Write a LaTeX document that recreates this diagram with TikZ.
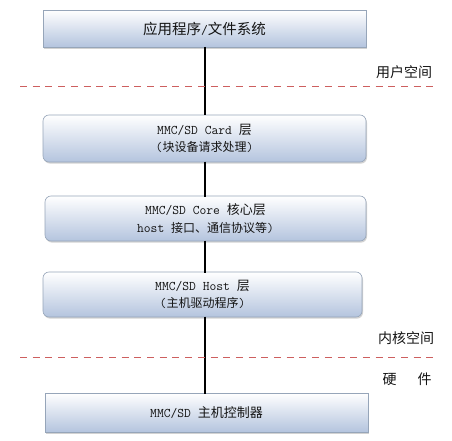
\documentclass[tikz,border=0pt]{standalone}
\usepackage{fontspec}
\setmainfont{Noto Sans CJK SC}
\usetikzlibrary{shadows}
\definecolor{boxbot}{RGB}{180,196,222}
\definecolor{bordc}{RGB}{150,165,185}
\definecolor{dashc}{RGB}{205,95,95}
\definecolor{txt}{RGB}{20,20,20}
\tikzset{
  layerbox/.style={draw=bordc, line width=0.6pt, top color=white, bottom color=boxbot,
    drop shadow={shadow xshift=1pt, shadow yshift=-1.6pt, fill=black!35},
    text=txt, align=center, inner sep=0pt, font=\fontsize{13}{18}\selectfont},
  roundbox/.style={layerbox, rounded corners=6pt},
  link/.style={draw=black, line width=1.3pt},
  divider/.style={draw=dashc, line width=0.9pt, dash pattern=on 7pt off 5.7pt},
  zone/.style={text=txt, font=\fontsize{14}{16}\selectfont, inner sep=0pt}
}
\newcommand{\lt}[1]{{\ttfamily\fontsize{13.2}{18}\selectfont #1}}
\newcommand{\sub}{\fontsize{12}{18}\selectfont}
\begin{document}
\begin{tikzpicture}[x=1pt,y=-1pt]
\useasboundingbox (0,0) rectangle (452,441);
\node[layerbox, minimum width=323pt, minimum height=37pt, font=\fontsize{14.5}{18}\selectfont] (app) at (204.5,28.5) {应用程序\lt{/}文件系统};
\node[roundbox, minimum width=323pt, minimum height=47pt] (card) at (204.5,138.5) {\lt{MMC/SD Card }层\\[-0.5pt]{\sub\lt{(}块设备请求处理\lt{)}}};
\node[roundbox, minimum width=321pt, minimum height=45pt] (core) at (205.5,218.5) {\lt{MMC/SD Core }核心层\\[-0.5pt]{\sub\lt{host }接口、通信协议等\lt{)}}};
\node[roundbox, minimum width=319pt, minimum height=45pt] (host) at (202.5,294.5) {\lt{MMC/SD Host }层\\[-0.5pt]{\sub\lt{(}主机驱动程序\lt{)}}};
\node[layerbox, minimum width=323pt, minimum height=39pt] (ctrl) at (206.5,412.5) {\lt{MMC/SD }主机控制器};

\coordinate (c1) at (205,47);
\coordinate (c2) at (205,115.5);
\coordinate (c3) at (205,161.5);
\coordinate (c4) at (205,196.5);
\coordinate (c5) at (205,240.5);
\coordinate (c6) at (205,272.5);
\coordinate (c7) at (205,316.5);
\coordinate (c8) at (205,393.5);
\draw[link] (c1) -- (c2);
\draw[link] (c3) -- (c4);
\draw[link] (c5) -- (c6);
\draw[link] (c7) -- (c8);

\coordinate (d1a) at (20,86);
\coordinate (d1b) at (437,86);
\coordinate (d2a) at (20,357);
\coordinate (d2b) at (437,357);
\draw[divider] (d1a) -- (d1b);
\draw[divider] (d2a) -- (d2b);

\node[zone] (user) at (404,72) {用户空间};
\node[zone] (kern) at (406,338) {内核空间};
\node[zone] (hw) at (407,379) {硬\hspace{1.5em}件};
\end{tikzpicture}
\end{document}
